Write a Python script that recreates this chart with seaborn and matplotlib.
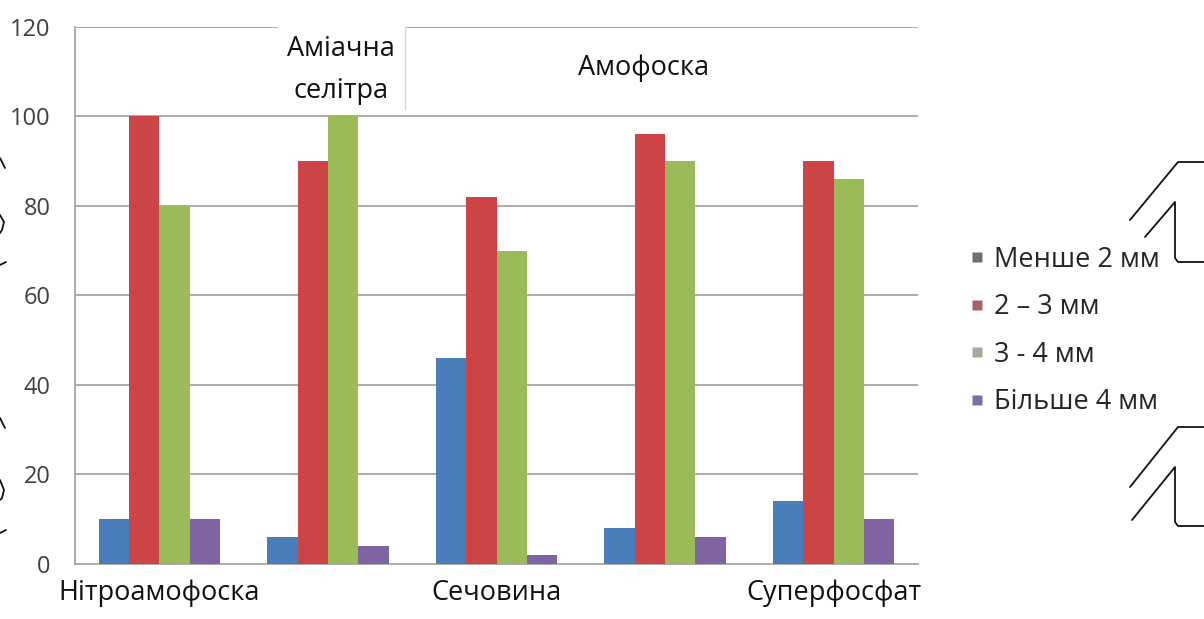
import matplotlib
matplotlib.use("Agg")
import matplotlib.pyplot as plt
from matplotlib.lines import Line2D
from matplotlib.patches import Rectangle
import numpy as np
import pandas as pd
import seaborn as sns

# Fertilizers and granule-size fractions (%)
fertilizers = ["Нітроамофоска", "Аміачна селітра", "Сечовина", "Амофоска", "Суперфосфат"]
fractions = ["Менше 2 мм", "2 – 3 мм", "3 - 4 мм", "Більше 4 мм"]
less_2mm = [10, 6, 46, 8, 14]
from_2_to_3mm = [100, 90, 82, 96, 90]
from_3_to_4mm = [80, 100, 70, 90, 86]
more_4mm = [10, 4, 2, 6, 10]
y_ticks = [0, 20, 40, 60, 80, 100, 120]

bar_colors = ["#4A7EBB", "#CD4446", "#9BBB59", "#8064A2"]
legend_colors = ["#6E6E72", "#A8606A", "#A8A99A", "#7373A3"]

df = pd.DataFrame({
    "fertilizer": fertilizers * 4,
    "fraction": sum([[f] * len(fertilizers) for f in fractions], []),
    "value": less_2mm + from_2_to_3mm + from_3_to_4mm + more_4mm,
})

sns.set_theme(style="white")
plt.rcParams["font.family"] = ["Open Sans", "DejaVu Sans"]

fig = plt.figure(figsize=(12.04, 6.19), dpi=100)
ax = fig.add_axes([0.0623, 0.0889, 0.7002, 0.8675])

sns.barplot(data=df, x="fertilizer", y="value", hue="fraction",
            order=fertilizers, hue_order=fractions, palette=bar_colors,
            width=0.72, saturation=1, gap=0, edgecolor="none",
            legend=False, ax=ax, zorder=3)

grid_c = "#A6A6A6"
label_fs = 19.5
ax.set_ylim(0, 120)
ax.set_xlim(-0.5, len(fertilizers) - 0.5)
ax.set_yticks(y_ticks)
ax.set_yticklabels([str(v) for v in y_ticks], fontsize=17, color="#404040")
for v in y_ticks[1:]:
    ax.axhline(v, color=grid_c, lw=1.3, zorder=1)

# Category labels: alternate names go below the axis, the others in boxes on top
ax.set_xticks(range(len(fertilizers)))
ax.set_xticklabels([n if i % 2 == 0 else "" for i, n in enumerate(fertilizers)],
                   fontsize=label_fs, color="#111111")
ax.set_xticks(np.arange(-0.5, len(fertilizers)), minor=True)
ax.tick_params(axis="x", which="major", length=0, pad=11)
ax.tick_params(axis="x", which="minor", length=5, width=1, color=grid_c, direction="out")
ax.tick_params(axis="y", which="major", length=7, width=1, color=grid_c,
               direction="inout", pad=14)
ax.set_xlabel("")
ax.set_ylabel("")

for side in ["top", "right"]:
    ax.spines[side].set_visible(False)
for side in ["left", "bottom"]:
    ax.spines[side].set_color(grid_c)
    ax.spines[side].set_linewidth(1.3)

# Boxed label for Аміачна селітра (white box over the top gridline)
ax.add_patch(Rectangle((0.705, 101.6), 0.75, 20, transform=ax.transData,
                       facecolor="white", edgecolor="none", zorder=4, clip_on=False))
ax.plot([1.458, 1.458], [101.6, 120], color="#D8D8D8", lw=1, zorder=5)
ax.text(1.08, 110.4, "Аміачна\nселітра", ha="center", va="center",
        fontsize=label_fs, linespacing=1.7, color="#111111", zorder=6)
ax.text(2.87, 110.8, "Амофоска", ha="center", va="center",
        fontsize=label_fs, color="#111111", zorder=6)

# Legend
handles = [Line2D([], [], marker="s", linestyle="none", markersize=7,
                  markerfacecolor=c, markeredgecolor="none") for c in legend_colors]
fig.legend(handles, fractions, loc="center left", bbox_to_anchor=(0.783, 0.465),
           frameon=False, fontsize=label_fs, handletextpad=0.3, labelspacing=0.72,
           handlelength=0.7)

# Pen strokes at the page edges
def stroke(xs, ys):
    fig.add_artist(Line2D([x / 1204 for x in xs], [1 - y / 619 for y in ys],
                          color="#111111", lw=1.3, transform=fig.transFigure))

stroke([1130, 1178, 1204], [220, 162, 162])
stroke([1145, 1175, 1175, 1178, 1204], [237, 202, 258, 262, 262])
stroke([1130, 1178, 1204], [487, 427, 427])
stroke([1132, 1175, 1175, 1178, 1204], [520, 467, 522, 526, 526])
stroke([0, 5], [158, 168])
stroke([0, 4, 2, 0], [215, 222, 230, 233])
stroke([0, 6], [265, 262])
stroke([0, 5], [418, 428])
stroke([0, 4, 2, 0], [480, 490, 498, 500])
stroke([0, 6], [533, 530])

fig.savefig("out.png", dpi=100, facecolor="white")
